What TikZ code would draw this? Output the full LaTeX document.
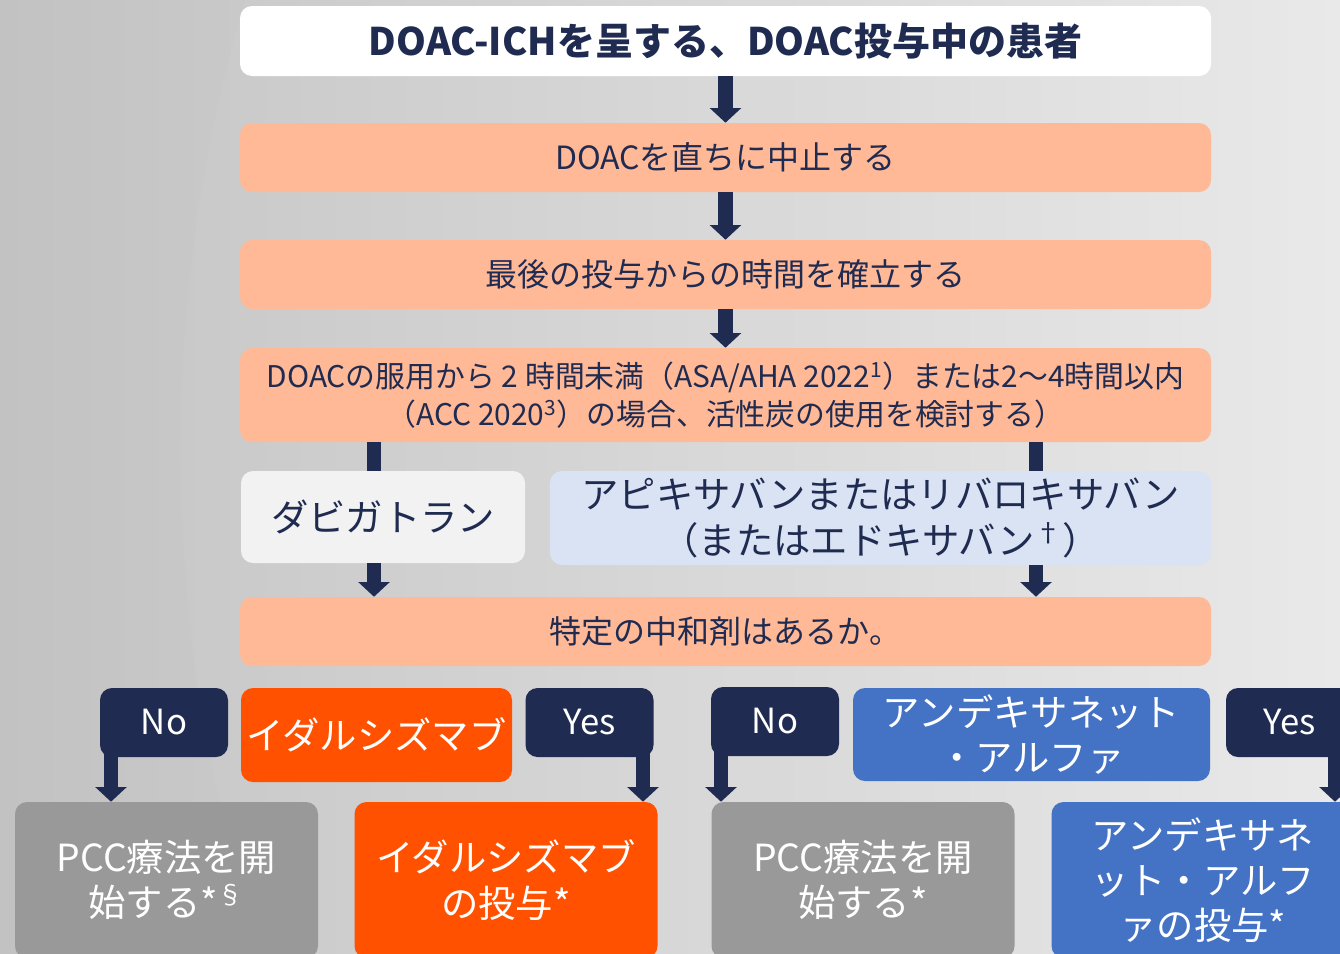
\documentclass[tikz,border=0pt]{standalone}
\usepackage{fontspec}
\setmainfont{Noto Sans CJK JP}
\usetikzlibrary{arrows.meta}

\definecolor{navy}{HTML}{1F2B50}
\definecolor{peach}{HTML}{FFB997}
\definecolor{flame}{HTML}{FF5100}
\definecolor{steel}{HTML}{4472C4}
\definecolor{paleblue}{HTML}{DAE3F3}
\definecolor{paper}{HTML}{F2F2F2}
\definecolor{ash}{HTML}{999999}
\definecolor{bgdark}{HTML}{C2C2C2}
\definecolor{bglight}{HTML}{E8E8E8}
\def\px{0.75pt}
\def\fstitle{\fontsize{28.5pt}{33pt}\selectfont\bfseries}
\def\fsstep{\fontsize{24pt}{29pt}\selectfont}
\def\fsnote{\fontsize{22.4pt}{28.5pt}\selectfont}
\def\fsbig{\fontsize{28pt}{34pt}\selectfont}
\def\fsans{\fontsize{26pt}{30pt}\selectfont}
\tikzstyle{box}=[rounded corners=9pt, align=center, inner sep=0pt,
                 minimum width=971*\px]
\tikzstyle{stepbox}=[box, fill=peach, text=navy, minimum height=69*\px,
                     font=\fsstep]
\tikzstyle{answer}=[box, fill=navy, text=white, minimum width=128*\px,
                    minimum height=69*\px, font=\fsans]
\tikzstyle{result}=[box, text=white, minimum width=303*\px,
                    minimum height=156*\px, font=\fsbig]
\tikzstyle{bar}=[navy, line width=11pt]
\tikzstyle{flow}=[bar, -{Triangle[width=23pt,length=11pt]}]

\begin{document}
\begin{tikzpicture}[x=0.75pt, y=-0.75pt]
  \useasboundingbox (0,0) rectangle (1340,954);
  \clip (0,0) rectangle (1340,954);
  % Background
  \fill[left color=bgdark, right color=bglight] (0,0) rectangle (1340,954);
  \fill[white, opacity=0.05] (1770,450) circle[radius=1192pt];

  % Place main steps
  \node[box, fill=white, text=navy, minimum height=70*\px, font=\fstitle]
    (title) at (725.5,41) {DOAC-ICHを呈する、DOAC投与中の患者};
  \node[stepbox] (stop) at (725.5,157.5) {DOACを直ちに中止する};
  \node[stepbox] (time) at (725.5,274.5) {最後の投与からの時間を確立する};
  \node[stepbox, minimum height=94*\px, font=\fsnote] (charcoal) at (725.5,395)
    {DOACの服用から 2 時間未満（ASA/AHA 2022\textsuperscript{1}）または2～4時間以内\\（ACC 2020\textsuperscript{3}）の場合、活性炭の使用を検討する）};

  % Place drug classes
  \node[box, fill=paper, text=navy, minimum width=284*\px,
        minimum height=92*\px, font=\fsbig] (dabi) at (383,517) {ダビガトラン};
  \node[box, fill=paleblue, text=navy, minimum width=661*\px,
        minimum height=94*\px, font=\fsbig] (apix) at (880.5,518)
    {アピキサバンまたはリバロキサバン\\（またはエドキサバン\textsuperscript{†}）};
  \node[stepbox] (antidote) at (725.5,631.5) {特定の中和剤はあるか。};

  % Place answers
  \node[answer] (no1) at (164,722.5) {No};
  \node[box, fill=flame, text=white, minimum width=271*\px,
        minimum height=94*\px, font=\fsbig] (ida) at (376.5,735) {イダルシズマブ};
  \node[answer] (yes1) at (589.5,722.5) {Yes};
  \node[answer] (no2) at (775,721.5) {No};
  \node[box, fill=steel, text=white, minimum width=357*\px,
        minimum height=93*\px, font=\fsbig] (andex) at (1031.5,734.5)
    {アンデキサネット\\・アルファ};
  \node[answer] (yes2) at (1290,722.5) {Yes};

  % Place treatments
  \node[result, fill=ash] (pcc1) at (166.5,880) {PCC療法を開\\始する*\textsuperscript{§}};
  \node[result, fill=flame] (ida2) at (506,880) {イダルシズマブ\\の投与*};
  \node[result, fill=ash] (pcc2) at (863,880) {PCC療法を開\\始する*};
  \node[result, fill=steel] (and2) at (1203,880) {アンデキサネ\\ット・アルフ\\ァの投与*};

  % Connectors
  \coordinate (left) at (374,0);
  \coordinate (right) at (1036,0);
  \coordinate (n1) at (111,750);
  \coordinate (y1) at (643,750);
  \coordinate (n2) at (721,750);
  \coordinate (y2) at (1335,750);

  \draw[flow] (title) -- (stop);
  \draw[flow] (stop) -- (time);
  \draw[flow] (time) -- (charcoal);
  \draw[bar] (charcoal.south -| left) -- (dabi.north -| left);
  \draw[flow] (dabi.south -| left) -- (antidote.north -| left);
  \draw[bar] (charcoal.south -| right) -- (apix.north -| right);
  \draw[flow] (apix.south -| right) -- (antidote.north -| right);
  \draw[flow] (n1) -- (n1 |- pcc1.north);
  \draw[flow] (y1) -- (y1 |- ida2.north);
  \draw[flow] (n2) -- (n2 |- pcc2.north);
  \draw[flow] (y2) -- (y2 |- and2.north);

\end{tikzpicture}
\end{document}
